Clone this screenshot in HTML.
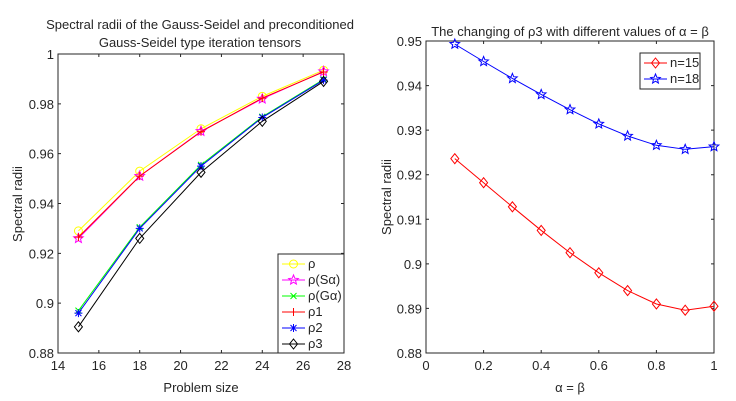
<!DOCTYPE html>
<html><head><meta charset="utf-8"><style>
body{margin:0;background:#fff;}
svg{display:block;font-family:"Liberation Sans",Arial,sans-serif;}
</style></head><body>
<svg id="s" width="736" height="401" viewBox="0 0 736 401">
<g id="L"></g>
<g id="R"></g>
</svg>
<script>
const leftX=[15,18,21,24,27];
const rho=[0.929,0.953,0.970,0.983,0.9935];
const rhoS=[0.926,0.951,0.969,0.982,0.993];
const rhoG=[0.897,0.9305,0.9555,0.9748,0.9898];
const rho1=[0.9265,0.951,0.9688,0.9823,0.9928];
const rho2=[0.896,0.930,0.955,0.9745,0.9895];
const rho3=[0.8905,0.926,0.9525,0.973,0.989];
const leftXTicks=[14,16,18,20,22,24,26,28];
const leftYTicks=[0.88,0.9,0.92,0.94,0.96,0.98,1];
const rightX=[0.1,0.2,0.3,0.4,0.5,0.6,0.7,0.8,0.9,1];
const n15=[0.9236,0.9182,0.9128,0.9075,0.9025,0.898,0.894,0.891,0.8896,0.8905];
const n18=[0.9493,0.9454,0.9416,0.938,0.9346,0.9314,0.9287,0.9266,0.9257,0.9263];
const rightXTicks=[0,0.2,0.4,0.6,0.8,1];
const rightYTicks=[0.88,0.89,0.9,0.91,0.92,0.93,0.94,0.95];

const NS="http://www.w3.org/2000/svg";
function mk(p,tag,a){const e=document.createElementNS(NS,tag);for(const k in a)e.setAttribute(k,a[k]);p.appendChild(e);return e;}
function txt(p,x,y,s,a){const t=mk(p,'text',Object.assign({x:x,y:y,'font-size':13,fill:'#262626'},a||{}));t.textContent=s;return t;}

function marker(g,type,x,y,c){
  let e;
  if(type==='o'){e=mk(g,'circle',{cx:x,cy:y,r:4,fill:'none',stroke:c});}
  else if(type==='d'){e=mk(g,'polygon',{points:`${x},${y-5} ${x+4},${y} ${x},${y+5} ${x-4},${y}`,fill:'none',stroke:c});}
  else if(type==='p'){let pts=[];for(let i=0;i<10;i++){const r=i%2?2.2:5,a=-Math.PI/2+i*Math.PI/5;pts.push((x+r*Math.cos(a)).toFixed(1)+','+(y+r*Math.sin(a)).toFixed(1));}
    e=mk(g,'polygon',{points:pts.join(' '),fill:'none',stroke:c});}
  else if(type==='+'){e=mk(g,'path',{d:`M${x-4} ${y}H${x+4}M${x} ${y-4}V${y+4}`,stroke:c});}
  else if(type==='x'){e=mk(g,'path',{d:`M${x-3} ${y-3}L${x+3} ${y+3}M${x+3} ${y-3}L${x-3} ${y+3}`,stroke:c});}
  else if(type==='*'){e=mk(g,'path',{d:`M${x-4} ${y}H${x+4}M${x} ${y-4}V${y+4}M${x-3} ${y-3}L${x+3} ${y+3}M${x+3} ${y-3}L${x-3} ${y+3}`,stroke:c});}
  
  
}

function chart(g,box,xd,yd,xt,yt,fmtX,fmtY){
  const sx=v=>box.x0+(v-xd[0])/(xd[1]-xd[0])*(box.x1-box.x0);
  const sy=v=>box.y1-(v-yd[0])/(yd[1]-yd[0])*(box.y1-box.y0);
  const fr=mk(g,'rect',{x:box.x0,y:box.y0,width:box.x1-box.x0,height:box.y1-box.y0,fill:'#fff',stroke:'#262626','stroke-width':1});
  
  xt.forEach(v=>{const x=sx(v);
    mk(g,'path',{d:`M${x} ${box.y1}v-3M${x} ${box.y0}v3`,stroke:'#262626'});
    const t=txt(g,x,box.y1+17,fmtX(v),{'text-anchor':'middle'});
    });
  yt.forEach(v=>{const y=sy(v);
    mk(g,'path',{d:`M${box.x0} ${y}h3M${box.x1} ${y}h-3`,stroke:'#262626'});
    const t=txt(g,box.x0-4,y+5,fmtY(v),{'text-anchor':'end'});
    });
  return {sx,sy};
}
function series(g,xs,ys,sx,sy,c,m,name){
  const sg=mk(g,'g',{});
  
  
  mk(sg,'polyline',{points:xs.map((x,i)=>sx(x)+','+sy(ys[i])).join(' '),fill:'none',stroke:c,'stroke-width':1});
  xs.forEach((x,i)=>marker(sg,m,sx(x),sy(ys[i]),c));
}
function legend(g,x,y,w,h,items,rowH,y0){
  const lg=mk(g,'g',{});
  
  
  mk(lg,'rect',{x:x,y:y,width:w,height:h,fill:'#fff',stroke:'#262626'});
  items.forEach((it,i)=>{const yy=y+y0+i*rowH;
    const eg=mk(lg,'g',{});
    
    
    mk(eg,'line',{x1:x+4,x2:x+27,y1:yy,y2:yy,stroke:it[1]});
    marker(eg,it[2],x+15.5,yy,it[1]);
    txt(eg,x+30,yy+4,it[0]);});
}

// Left
const L=document.getElementById('L');
let t=txt(L,200,29,'Spectral radii of the Gauss-Seidel and preconditioned',{'text-anchor':'middle'});

t=txt(L,200,47,'Gauss-Seidel type iteration tensors',{'text-anchor':'middle'});

const a=chart(L,{x0:58,x1:344,y0:54,y1:353},[14,28],[0.88,1],leftXTicks,leftYTicks,v=>String(v),v=>String(+v.toFixed(2)));
t=txt(L,201,392,'Problem size',{'text-anchor':'middle'});

t=txt(L,22,204,'Spectral radii',{'text-anchor':'middle',transform:'rotate(-90 22 204)'});

series(L,leftX,rho,a.sx,a.sy,'#ffff00','o','series-rho');
series(L,leftX,rhoS,a.sx,a.sy,'#ff00ff','p','series-rho-s');
series(L,leftX,rhoG,a.sx,a.sy,'#00ff00','x','series-rho-g');
series(L,leftX,rho1,a.sx,a.sy,'#ff0000','+','series-rho1');
series(L,leftX,rho2,a.sx,a.sy,'#0000ff','*','series-rho2');
series(L,leftX,rho3,a.sx,a.sy,'#000000','d','series-rho3');
legend(L,278,254,66,99,[['ρ','#ffff00','o'],['ρ(Sα)','#ff00ff','p'],['ρ(Gα)','#00ff00','x'],['ρ1','#ff0000','+'],['ρ2','#0000ff','*'],['ρ3','#000000','d']],16,10);

// Right
const R=document.getElementById('R');
t=txt(R,570,36,'The changing of ρ3 with different values of α = β',{'text-anchor':'middle'});

const b=chart(R,{x0:426,x1:714,y0:41,y1:353},[0,1],[0.88,0.95],rightXTicks,rightYTicks,v=>String(+v.toFixed(1)),v=>String(+v.toFixed(2)));
t=txt(R,570,392,'α = β',{'text-anchor':'middle'});

t=txt(R,391,197,'Spectral radii',{'text-anchor':'middle',transform:'rotate(-90 391 197)'});

series(R,rightX,n15,b.sx,b.sy,'#ff0000','d','series-n15');
series(R,rightX,n18,b.sx,b.sy,'#0000ff','p','series-n18');
legend(R,640,53,60,36,[['n=15','#ff0000','d'],['n=18','#0000ff','p']],16,10);
</script>
</body></html>
